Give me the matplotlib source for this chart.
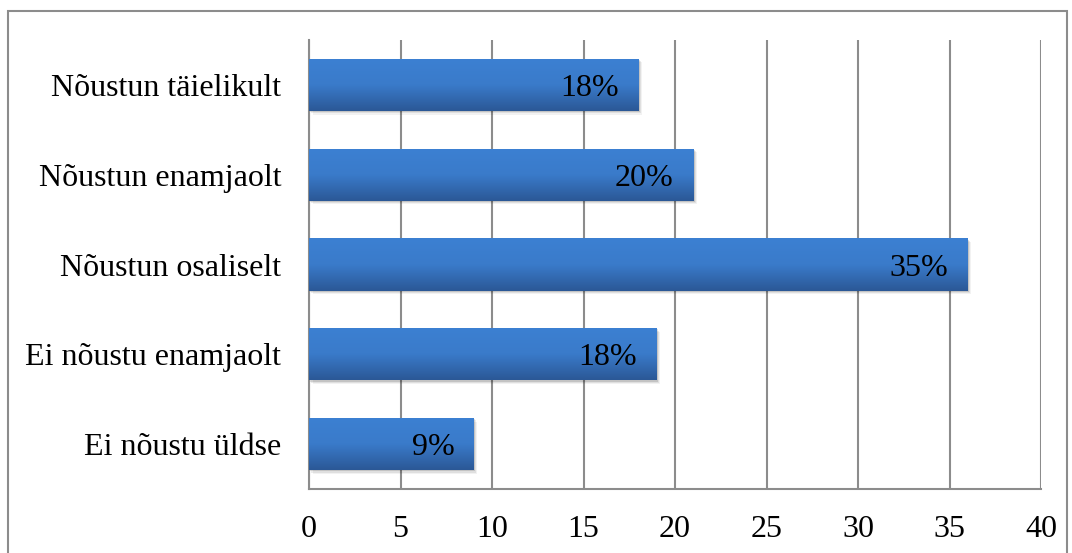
import numpy as np
import matplotlib
matplotlib.use("Agg")
import matplotlib.pyplot as plt
from matplotlib.colors import LinearSegmentedColormap
from matplotlib.patches import Rectangle
import matplotlib.transforms as mtransforms

# survey answers (top to bottom), respondent counts and share labels
categories = ["Nõustun täielikult", "Nõustun enamjaolt", "Nõustun osaliselt",
              "Ei nõustu enamjaolt", "Ei nõustu üldse"]
counts = [18, 21, 36, 19, 9]
shares = [18, 20, 35, 18, 9]
x_ticks = [0, 5, 10, 15, 20, 25, 30, 35, 40]

plt.rcParams['font.family'] = ['Liberation Serif', 'DejaVu Serif']
FS = 23

W, H = 1072, 553
fig = plt.figure(figsize=(W / 100, H / 100), dpi=100)
ax = fig.add_axes([309 / W, (H - 489) / H, 732 / W, 449 / H])

# outer chart frame
fig.patches.append(Rectangle((8 / W, -0.1), (1067 - 8) / W, (H - 11) / H + 0.1,
                             transform=fig.transFigure, fill=False,
                             edgecolor='#8c8c8c', linewidth=1.5))

n = len(categories)
ypos = np.arange(n)[::-1]
bar_h = 0.58

grad_cmap = LinearSegmentedColormap.from_list('bar', ['#2b5896', '#3a7bca', '#3c80d2'])
grad = np.linspace(0, 1, 100).reshape(-1, 1)

bars = ax.barh(ypos, counts, height=bar_h, color='none', edgecolor='none', zorder=3)
for bar, s in zip(bars, shares):
    x0, y0 = bar.get_x(), bar.get_y()
    w, h = bar.get_width(), bar.get_height()
    # soft drop shadow
    for k, a in [(6, 0.05), (4, 0.08), (2, 0.12)]:
        off = mtransforms.offset_copy(ax.transData, fig=fig, x=k * 0.6, y=-k * 0.6, units='dots')
        ax.add_patch(Rectangle((x0, y0), w, h, transform=off, facecolor='black',
                               edgecolor='none', alpha=a, zorder=2))
    im = ax.imshow(grad, extent=[x0, x0 + w, y0, y0 + h], origin='lower',
                   aspect='auto', cmap=grad_cmap, zorder=4)
    im.set_clip_path(bar)
    ax.annotate(f"{s}%", (x0 + w, y0 + h / 2),
                xytext=(-14, 0), textcoords='offset points',
                ha='right', va='center_baseline', fontsize=FS, color='black', zorder=5)

ax.set_xlim(0, 40)
ax.set_ylim(-0.5, n - 0.5)
ax.set_xticks(x_ticks)
ax.set_yticks(ypos)
ax.set_yticklabels(categories, va='center_baseline')
ax.tick_params(axis='both', length=0, labelsize=FS)
ax.tick_params(axis='x', pad=19)
ax.tick_params(axis='y', pad=20)
ax.xaxis.grid(True, color='#8c8c8c', linewidth=1.5, zorder=1)
ax.set_axisbelow(True)
for s in ['top', 'right']:
    ax.spines[s].set_visible(False)
for s in ['left', 'bottom']:
    ax.spines[s].set_color('#8c8c8c')
    ax.spines[s].set_linewidth(1.5)

fig.savefig('out.png', dpi=100)
